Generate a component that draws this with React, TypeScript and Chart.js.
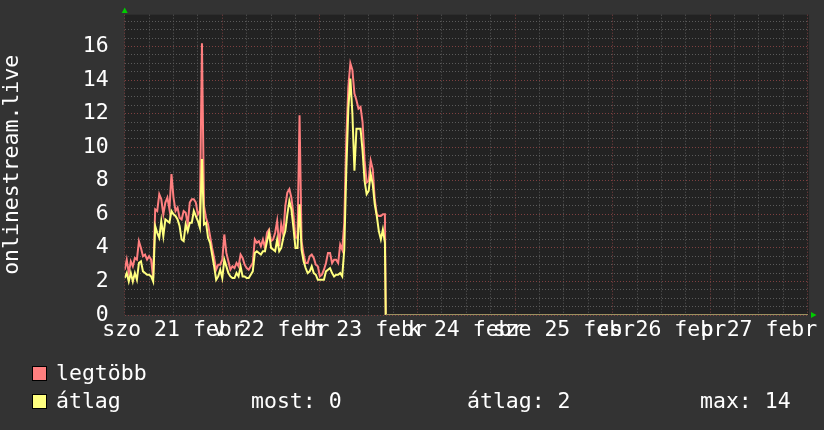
import React, { useEffect, useRef } from "react";
import { Chart, registerables } from "chart.js";

Chart.register(...registerables);

// Half-hourly readings, index 0 = szo 21 febr 00:00
const STEP_HOURS = 0.5;
const maxValues = [
  2.7, 3.3, 2.5, 3.2, 2.9, 3.4, 3.3, 4.4, 4.0, 3.5, 3.6, 3.3, 3.5, 3.3, 2.2,
  6.3, 6.2, 7.2, 6.9, 6.0, 6.7, 7.0, 6.3, 8.4, 7.0, 6.2, 6.4, 5.8, 5.7, 6.2,
  6.1, 5.4, 6.7, 6.9, 6.9, 6.7, 6.0, 6.2, 16.2, 6.5, 5.8,
  5.4, 4.7, 4.0, 3.4, 2.7, 3.0, 3.0, 3.3, 4.8, 3.7, 3.2, 2.7, 2.9, 2.8, 3.1,
  2.9, 3.6, 3.4, 3.0, 2.8, 2.7, 2.9, 3.1, 4.5, 4.3, 4.4, 4.1, 4.5, 4.0, 4.9,
  5.1, 4.4, 4.5, 4.9, 5.6, 4.1, 5.4, 4.8, 6.5, 7.3, 7.5, 7.0, 6.0, 4.6, 4.6,
  11.9,
  4.4, 3.6, 3.1, 3.1, 3.5, 3.6, 3.4, 3.0, 2.9, 2.3, 2.4, 2.7, 3.1, 3.7, 3.7,
  3.1, 3.3, 3.3, 3.1, 4.2, 3.9, 5.5, 10.5, 13.6, 15.0, 14.6, 13.2, 12.8, 12.3,
  12.4, 11.5, 9.2, 7.9, 8.0, 9.2, 8.7, 6.9, 6.0, 5.9, 5.9, 6.0, 6.0,
];
const avgValues = [
  2.2, 2.5, 2.0, 2.5, 2.0, 2.5, 2.1, 3.1, 3.2, 2.6, 2.5, 2.4, 2.4, 2.3, 2.0,
  5.3, 4.9, 4.6, 5.6, 4.7, 5.7, 5.6, 5.5, 6.2, 6.0, 5.9, 5.7, 5.3, 4.5, 4.4,
  5.4, 5.0, 5.5, 5.5, 6.2, 5.9, 5.6, 5.2, 9.3, 5.4, 5.5,
  4.6, 4.3, 3.6, 2.9, 2.1, 2.3, 2.7, 2.2, 3.3, 2.9, 2.5, 2.3, 2.2, 2.2, 2.5,
  2.3, 2.9, 2.3, 2.3, 2.2, 2.2, 2.4, 2.6, 3.7, 3.8, 3.7, 3.6, 3.8, 3.8, 4.4,
  4.9, 4.0, 3.9, 3.8, 4.5, 3.8, 4.0, 4.6, 5.0, 6.0, 6.8, 6.3, 5.2, 4.0, 4.0,
  6.6,
  3.9, 3.2, 2.8, 2.5, 2.6, 2.9, 2.5, 2.4, 2.1, 2.1, 2.1, 2.1, 2.6, 2.7, 2.8,
  2.5, 2.3, 2.4, 2.4, 2.5, 2.3, 3.9, 8.6, 12.3, 14.1, 12.0, 8.6, 11.1, 11.1,
  11.1, 9.8, 8.0, 7.2, 7.4, 8.4, 7.8, 6.6, 5.9, 5.0, 4.5, 5.1, 4.3,
];
// after the data stops, the series sits at zero to the end of the week
const tailHours = [64.2, 168];
const tailValues = [0, 0];

const dayLabels = [
  "szo 21 febr",
  "v 22 febr",
  "h 23 febr",
  "k 24 febr",
  "sze 25 febr",
  "cs 26 febr",
  "p 27 febr",
];
const xGridHours = [
  0, 6, 12, 18, 24, 30, 36, 42, 48, 54, 60, 66, 72, 78, 84, 90, 96, 102, 108,
  114, 120, 126, 132, 138, 144, 150, 156, 162, 168,
];
const yGridValues = [
  0, 0.5, 1, 1.5, 2, 2.5, 3, 3.5, 4, 4.5, 5, 5.5, 6, 6.5, 7, 7.5, 8, 8.5, 9,
  9.5, 10, 10.5, 11, 11.5, 12, 12.5, 13, 13.5, 14, 14.5, 15, 15.5, 16, 16.5,
  17, 17.5,
];

const legendSeries = ["legtöbb", "átlag"];
const legendStats = ["most: 0", "átlag: 2", "max: 14"];

const RED = "#ff7f7f";
const YELLOW = "#ffff7f";
const ZERO_COLOR = "#9c9160";
const MINOR = "#5a5a5a";
const MAJOR = "#7e4040";
const FONT_FAMILY = '"DejaVu Sans Mono", monospace';
const FONT_SIZE = 21.5;

export default function App() {
  const ref = useRef<HTMLCanvasElement>(null);

  useEffect(() => {
    document.body.style.margin = "0";
    document.body.style.background = "#333333";
    const canvas = ref.current!;

    const toPoints = (vals: number[]) =>
      vals
        .map((v, i) => ({ x: i * STEP_HOURS, y: v }))
        .concat(tailHours.map((h, i) => ({ x: h, y: tailValues[i] })));

    const zeroSeg = (ctx: any) =>
      ctx.p0.parsed.y === 0 && ctx.p1.parsed.y === 0 ? ZERO_COLOR : undefined;

    const bgPlugin = {
      id: "bg",
      beforeDraw(chart: any) {
        const { ctx, chartArea } = chart;
        ctx.save();
        ctx.fillStyle = "#333333";
        ctx.fillRect(0, 0, chart.width, chart.height);
        ctx.fillStyle = "#222222";
        ctx.fillRect(
          chartArea.left,
          chartArea.top,
          chartArea.right - chartArea.left,
          chartArea.bottom - chartArea.top
        );
        ctx.restore();
      },
    };

    const overlayPlugin = {
      id: "overlay",
      afterDraw(chart: any) {
        const { ctx, chartArea } = chart;
        ctx.save();
        // arrows
        ctx.fillStyle = "#00cc00";
        const ax = chartArea.left;
        ctx.beginPath();
        ctx.moveTo(ax - 3, 13);
        ctx.lineTo(ax + 3, 13);
        ctx.lineTo(ax, 7.5);
        ctx.closePath();
        ctx.fill();
        const ay = chartArea.bottom;
        ctx.beginPath();
        ctx.moveTo(chartArea.right + 2, ay - 3);
        ctx.lineTo(chartArea.right + 2, ay + 3);
        ctx.lineTo(chartArea.right + 7.5, ay);
        ctx.closePath();
        ctx.fill();

        // legend
        const swatches = [RED, YELLOW];
        const swY = [366, 394];
        const baseY = [380, 408];
        ctx.font = `${FONT_SIZE}px ${FONT_FAMILY}`;
        ctx.textBaseline = "alphabetic";
        ctx.textAlign = "left";
        legendSeries.forEach((name, i) => {
          ctx.fillStyle = swatches[i];
          ctx.fillRect(32, swY[i], 15, 15);
          ctx.strokeStyle = "#000000";
          ctx.lineWidth = 1;
          ctx.strokeRect(32.5, swY[i] + 0.5, 14, 14);
          ctx.fillStyle = "#ffffff";
          ctx.fillText(name, 56, baseY[i]);
        });
        const statX = [251, 467, 700];
        legendStats.forEach((s, i) => {
          ctx.fillStyle = "#ffffff";
          ctx.fillText(s, statX[i], 408);
        });
        ctx.restore();
      },
    };

    const font = { family: FONT_FAMILY, size: FONT_SIZE };

    const chart = new Chart(canvas, {
      type: "line",
      data: {
        datasets: [
          {
            label: "átlag",
            data: toPoints(avgValues),
            borderColor: YELLOW,
            borderWidth: 2,
            pointRadius: 0,
            tension: 0,
            fill: false,
            segment: { borderColor: zeroSeg },
          },
          {
            label: "legtöbb",
            data: toPoints(maxValues),
            borderColor: RED,
            borderWidth: 2,
            pointRadius: 0,
            tension: 0,
            fill: false,
            segment: { borderColor: zeroSeg },
          },
        ],
      },
      options: {
        responsive: false,
        devicePixelRatio: 1,
        animation: false,
        events: [],
        layout: { padding: { top: 14.7, right: 15, left: 0, bottom: 0 } },
        plugins: {
          legend: { display: false },
          tooltip: { enabled: false },
          title: { display: false },
        },
        scales: {
          x: {
            type: "linear",
            min: 0,
            max: 168.3,
            afterBuildTicks: (scale: any) => {
              scale.ticks = xGridHours.map((v) => ({ value: v }));
            },
            afterFit: (scale: any) => {
              scale.height = 115;
              scale.paddingLeft = 0;
              scale.paddingRight = 0;
              scale.paddingTop = 0;
              scale.paddingBottom = 0;
            },
            ticks: {
              autoSkip: false,
              maxRotation: 0,
              minRotation: 0,
              padding: 3,
              color: "#ffffff",
              font,
              callback: (v: any) =>
                v % 24 === 12 ? dayLabels[(v - 12) / 24] : "",
            },
            grid: {
              color: (ctx: any) =>
                ctx.tick && ctx.tick.value % 24 === 0 ? MAJOR : MINOR,
              lineWidth: 1,
              drawTicks: false,
            },
            border: { display: false, dash: [1, 2] },
          },
          y: {
            type: "linear",
            min: 0,
            max: 17.9,
            afterBuildTicks: (scale: any) => {
              scale.ticks = yGridValues.map((v) => ({ value: v }));
            },
            afterFit: (scale: any) => {
              scale.width = 124.7;
              scale.paddingLeft = 0;
              scale.paddingRight = 0;
              scale.paddingTop = 0;
              scale.paddingBottom = 0;
            },
            ticks: {
              autoSkip: false,
              padding: 16,
              color: "#ffffff",
              font,
              callback: (v: any) => (v % 2 === 0 ? String(v) : ""),
            },
            grid: {
              color: (ctx: any) =>
                ctx.tick && ctx.tick.value % 2 === 0 ? MAJOR : MINOR,
              lineWidth: 1,
              drawTicks: false,
            },
            border: { display: false, dash: [1, 2] },
            title: {
              display: true,
              text: "onlinestream.live",
              color: "#ffffff",
              font,
              padding: 0,
            },
          },
        },
      },
      plugins: [bgPlugin, overlayPlugin],
    } as any);

    return () => chart.destroy();
  }, []);

  return (
    <canvas
      ref={ref}
      width={824}
      height={430}
      style={{ display: "block", width: 824, height: 430 }}
    />
  );
}
